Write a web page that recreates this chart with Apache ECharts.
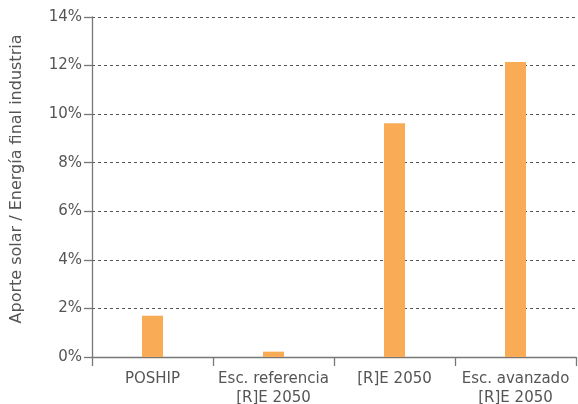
<!DOCTYPE html>
<html>
<head>
<meta charset="utf-8">
<script src="https://cdn.jsdelivr.net/npm/echarts@6/dist/echarts.min.js"></script>
<style>
  html, body { margin: 0; padding: 0; background: #fff; }
  #chart { width: 578px; height: 404px; }
</style>
</head>
<body>
<div id="chart"></div>
<script>
// categorias y valores (% aporte solar)
var categories = ["POSHIP", "Esc. referencia\n[R]E 2050", "[R]E 2050", "Esc. avanzado\n[R]E 2050"];
var values = [1.7, 0.22, 9.63, 12.15];
var yTicks = [0, 2, 4, 6, 8, 10, 12, 14];

var myChart = echarts.init(document.getElementById("chart"));
var option = {
  animation: false,
  textStyle: { fontFamily: "DejaVu Sans" },
  grid: { left: 92, right: 2, top: 17, bottom: 47, outerBoundsMode: "none" },
  xAxis: {
    type: "category",
    data: categories,
    axisLine: { lineStyle: { color: "#777", width: 1.3 } },
    axisTick: { show: true, length: 9, lineStyle: { color: "#777", width: 1.3 } },
    axisLabel: { color: "#555", fontSize: 15, lineHeight: 19, margin: 13, interval: 0 }
  },
  yAxis: {
    type: "value",
    min: yTicks[0],
    max: yTicks[yTicks.length - 1],
    interval: 2,
    name: "Aporte solar / Energía final industria",
    nameLocation: "middle",
    nameGap: 67,
    nameTextStyle: { color: "#555", fontSize: 16, padding: [0, 0, 0, 16] },
    axisLine: { show: true, lineStyle: { color: "#777", width: 1.3 } },
    axisTick: { show: true, length: 8, lineStyle: { color: "#777", width: 1.3 } },
    axisLabel: { color: "#555", fontSize: 15, margin: 10, formatter: "{value}%" },
    splitLine: { lineStyle: { color: "#555", type: [3, 3], width: 1 } }
  },
  series: [{
    type: "bar",
    data: values,
    barWidth: 21,
    itemStyle: { color: "#F9AB55" }
  }]
};
myChart.setOption(option);
</script>
</body>
</html>
